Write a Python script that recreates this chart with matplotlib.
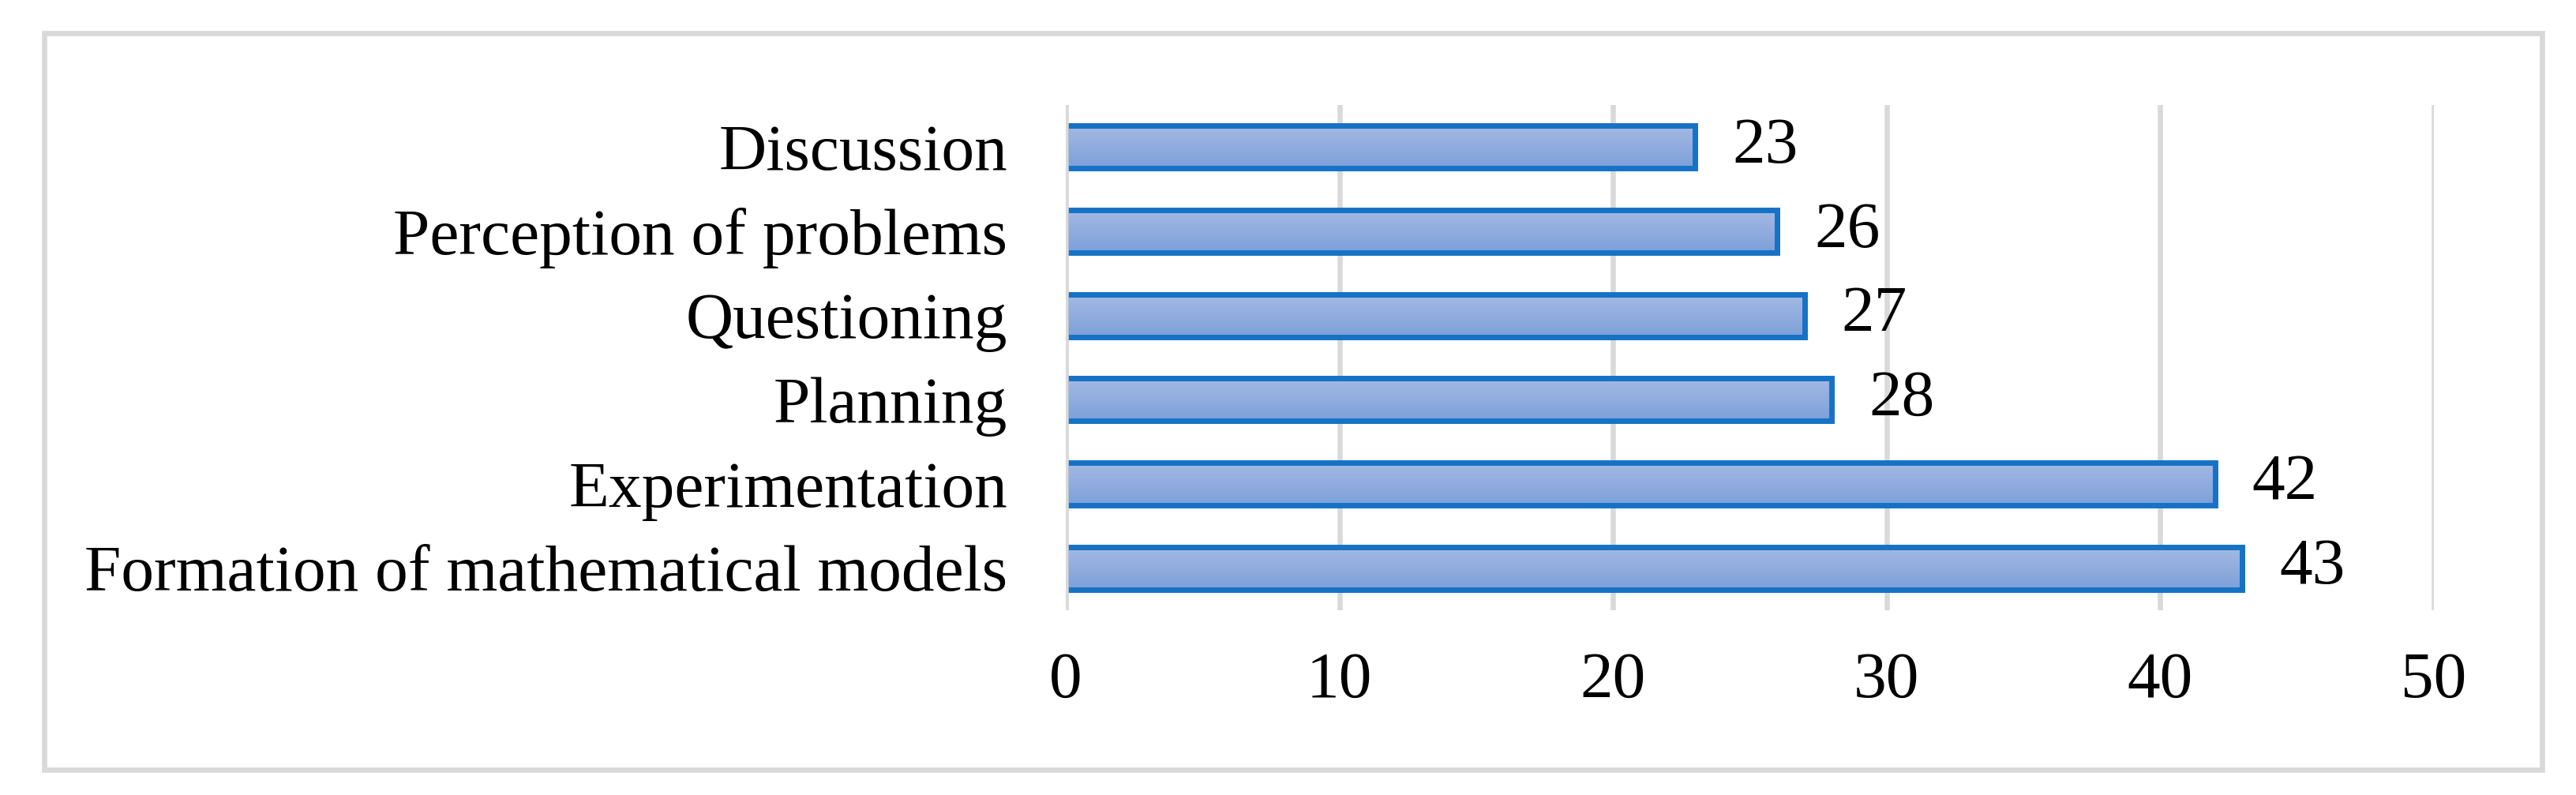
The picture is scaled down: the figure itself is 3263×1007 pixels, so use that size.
import numpy as np
import matplotlib
matplotlib.use('Agg')
import matplotlib.pyplot as plt
from matplotlib.patches import Rectangle
from matplotlib.colors import LinearSegmentedColormap

plt.rcParams['font.family'] = ['Liberation Serif', 'DejaVu Serif']

categories = ['Formation of mathematical models', 'Experimentation', 'Planning',
              'Questioning', 'Perception of problems', 'Discussion']
values = [43, 42, 28, 27, 26, 23]
xticks = [0, 10, 20, 30, 40, 50]

W, H = 3263, 1007
fig = plt.figure(figsize=(W / 100, H / 100), dpi=100)
ax = fig.add_axes([1350 / W, 1 - 773 / H, (3083 - 1350) / W, (773 - 133) / H])

# light grey outer frame around the whole chart
frame = Rectangle((56 / W, 1 - 975 / H), (3220 - 56) / W, (975 - 42) / H,
                  transform=fig.transFigure, fill=False, edgecolor='#d9d9d9',
                  linewidth=4.8, zorder=0)
fig.patches.append(frame)

y = np.arange(len(categories))
bars = ax.barh(y, values, height=0.505, color='none', edgecolor='#1672c5',
               linewidth=5, zorder=3)

# vertical gradient fill inside each bar, light at top
cmap = LinearSegmentedColormap.from_list('grad', ['#a4b9e3', '#7ca0d9'])
grad = np.linspace(0, 1, 256).reshape(-1, 1)
for b in bars:
    x0, y0 = b.get_x(), b.get_y()
    w, h = b.get_width(), b.get_height()
    im = ax.imshow(grad, cmap=cmap, aspect='auto', origin='upper',
                   extent=[x0, x0 + w, y0, y0 + h], zorder=2)
    im.set_clip_path(b)

for yi, v in zip(y, values):
    ax.text(v + 1.35, yi, str(v), va='center', ha='left', fontsize=60)

ax.set_xlim(0, 50)
ax.set_ylim(-0.5, len(categories) - 0.5)
ax.set_xticks(xticks)
ax.set_xticklabels([str(t) for t in xticks], fontsize=60)
ax.set_yticks(y)
ax.set_yticklabels(categories, fontsize=60)
ax.tick_params(axis='both', length=0)
ax.tick_params(axis='x', pad=38)
ax.tick_params(axis='y', pad=53)
ax.grid(axis='x', color='#d9d9d9', linewidth=4.7, zorder=0)
ax.set_axisbelow(True)
# category axis line sits over the bars' left edges
ax.axvline(0, color='#d9d9d9', linewidth=4.7, zorder=4)
for s in ax.spines.values():
    s.set_visible(False)

fig.savefig('out.png', dpi=100)
